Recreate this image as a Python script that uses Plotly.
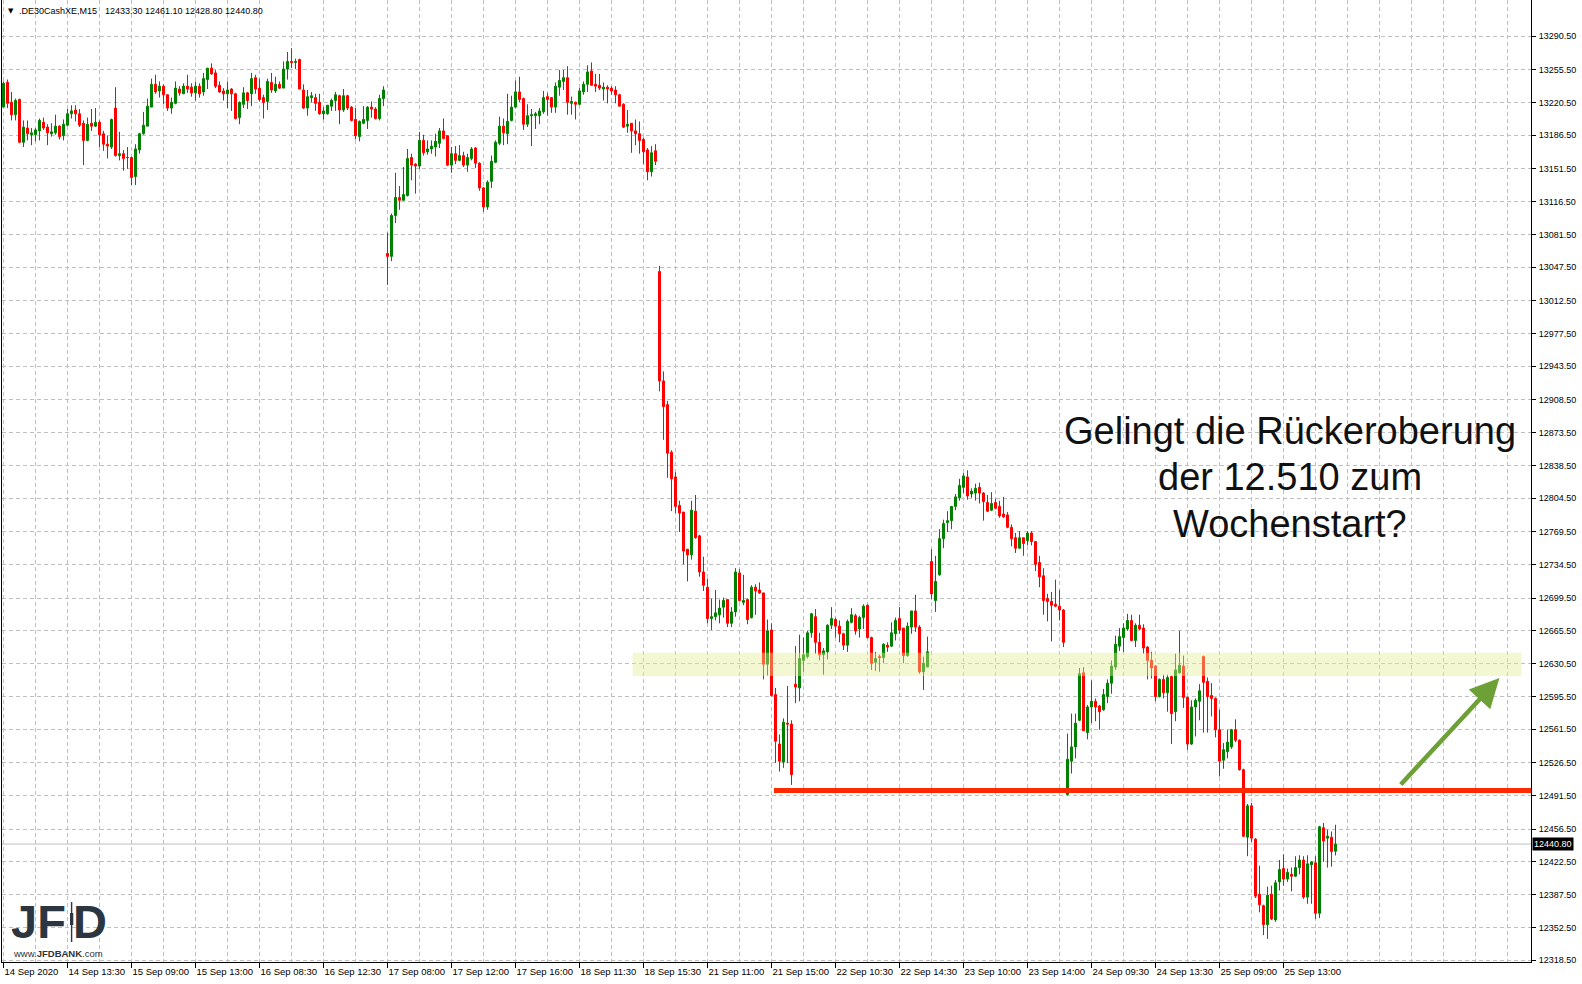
import plotly.graph_objects as go

# ---------------- data (DE30 M15 candles) ----------------
opens = [
13216,13242,13221,13208,13224,13179,13194,13187,13187,13191,
13200,13195,13188,13189,13196,13186,13197,13209,13213,13209,
13199,13181,13199,13196,13200,13188,13177,13174,13215,13165,
13167,13163,13163,13143,13171,13188,13196,13216,13240,13233,
13238,13229,13215,13220,13235,13230,13238,13237,13231,13238,
13232,13245,13257,13252,13239,13233,13230,13235,13230,13205,
13219,13231,13230,13247,13236,13226,13222,13242,13233,13240,
13236,13256,13264,13263,13266,13234,13215,13226,13226,13221,
13209,13209,13217,13223,13228,13213,13228,13216,13203,13185,
13199,13202,13216,13214,13204,13225,13062,13059,13102,13121,
13118,13123,13163,13156,13154,13181,13169,13172,13174,13178,
13191,13186,13155,13167,13160,13165,13155,13162,13173,13157,
13131,13111,13138,13158,13178,13196,13188,13202,13216,13232,
13225,13198,13207,13207,13207,13211,13227,13226,13216,13237,
13243,13247,13220,13221,13219,13232,13240,13254,13240,13239,
13235,13237,13236,13234,13229,13219,13196,13199,13191,13188,
13182,13171,13148,13170,13043,12928,12903,12853,12827,12797,
12790,12751,12745,12791,12765,12727,12711,12678,12680,12682,
12690,12698,12673,12685,12726,12695,12698,12679,12711,12708,
12705,12630,12666,12598,12546,12527,12568,12567,12609,12605,
12634,12638,12663,12680,12653,12640,12643,12671,12677,12670,
12662,12650,12674,12681,12667,12679,12692,12658,12632,12638,
12637,12650,12649,12662,12678,12668,12639,12669,12686,12669,
12622,12627,12738,12697,12724,12762,12779,12781,12796,12805,
12816,12827,12809,12810,12816,12810,12800,12792,12800,12796,
12788,12787,12774,12763,12752,12763,12760,12768,12759,12737,
12723,12699,12696,12693,12691,12687,12493,12528,12543,12571,
12621,12558,12585,12591,12586,12582,12596,12610,12627,12649,
12658,12667,12676,12655,12671,12668,12648,12634,12628,12596,
12614,12600,12617,12580,12621,12628,12595,12546,12585,12591,
12638,12612,12597,12594,12561,12529,12538,12543,12561,12550,
12519,12448,12481,12446,12388,12376,12356,12388,12361,12401,
12415,12404,12409,12407,12416,12424,12385,12419,12421,12368,
12458,12447,12448,12433.3]

highs = [
13243,13245,13232,13225,13225,13202,13202,13194,13194,13204,
13205,13198,13199,13208,13197,13203,13214,13218,13218,13214,
13202,13205,13214,13215,13202,13191,13186,13204,13237,13190,
13171,13174,13164,13177,13189,13211,13225,13246,13250,13243,
13240,13229,13226,13243,13238,13241,13250,13241,13243,13241,
13252,13257,13262,13255,13243,13236,13243,13236,13231,13222,
13237,13232,13252,13250,13246,13229,13246,13252,13248,13243,
13264,13274,13278,13267,13267,13240,13234,13232,13230,13230,
13216,13218,13225,13232,13229,13235,13229,13217,13215,13202,
13217,13217,13222,13216,13229,13238,13084,13104,13147,13133,
13153,13172,13167,13157,13190,13187,13181,13181,13188,13194,
13204,13186,13174,13175,13176,13169,13167,13174,13174,13158,
13132,13139,13165,13181,13206,13204,13230,13228,13244,13248,
13226,13219,13214,13211,13215,13233,13231,13226,13242,13255,
13255,13259,13227,13222,13236,13243,13260,13263,13251,13251,
13242,13239,13238,13238,13230,13220,13213,13199,13203,13201,
13184,13173,13175,13177,13049,12938,12907,12855,12832,12802,
12790,12751,12802,12808,12766,12743,12720,12699,12708,12698,
12700,12698,12690,12731,12730,12724,12699,12713,12714,12716,
12705,12677,12673,12605,12556,12573,12607,12571,12649,12661,
12658,12665,12684,12688,12663,12647,12672,12690,12679,12676,
12663,12677,12689,12683,12681,12693,12693,12659,12643,12640,
12652,12653,12674,12679,12690,12668,12674,12686,12703,12671,
12638,12659,12751,12744,12772,12782,12791,12796,12809,12825,
12831,12834,12815,12820,12821,12811,12808,12811,12804,12802,
12806,12790,12777,12768,12770,12763,12770,12770,12759,12744,
12731,12704,12706,12719,12708,12688,12557,12578,12578,12626,
12627,12587,12613,12594,12587,12604,12614,12634,12660,12668,
12673,12683,12682,12673,12682,12672,12649,12643,12629,12615,
12619,12619,12618,12641,12665,12639,12596,12592,12594,12609,
12639,12616,12610,12595,12582,12547,12561,12562,12572,12551,
12520,12483,12484,12447,12418,12377,12396,12397,12403,12424,
12430,12415,12416,12428,12429,12428,12429,12423,12428,12460,
12463,12456,12454,12461.1]

lows = [
13216,13215,13202,13202,13178,13174,13181,13176,13180,13181,
13192,13176,13185,13187,13182,13181,13196,13204,13201,13195,
13155,13180,13191,13195,13174,13170,13162,13172,13164,13160,
13149,13151,13134,13134,13167,13187,13196,13216,13230,13226,
13219,13212,13209,13219,13228,13230,13231,13227,13223,13226,
13228,13235,13250,13236,13231,13223,13215,13212,13203,13198,
13215,13214,13217,13230,13222,13204,13213,13231,13231,13235,
13236,13245,13257,13256,13235,13214,13207,13221,13212,13208,
13203,13208,13212,13212,13198,13211,13213,13201,13182,13180,
13198,13193,13205,13203,13202,13217,13029,13054,13094,13108,
13118,13122,13139,13125,13151,13165,13166,13167,13164,13173,
13182,13154,13147,13156,13159,13153,13148,13160,13152,13128,
13106,13108,13131,13157,13176,13176,13177,13201,13215,13221,
13192,13195,13175,13193,13198,13209,13207,13210,13210,13228,
13234,13208,13208,13203,13218,13229,13232,13239,13232,13234,
13223,13220,13229,13220,13217,13194,13189,13168,13176,13167,
13156,13139,13143,13155,12917,12866,12826,12791,12789,12769,
12735,12717,12740,12762,12722,12707,12673,12666,12676,12673,
12679,12669,12669,12680,12696,12692,12672,12678,12682,12704,
12614,12618,12596,12526,12517,12521,12526,12503,12589,12591,
12622,12636,12658,12641,12634,12619,12635,12667,12658,12653,
12645,12643,12673,12661,12658,12667,12657,12624,12623,12622,
12631,12643,12648,12655,12662,12631,12638,12662,12664,12620,
12603,12627,12698,12685,12723,12752,12769,12772,12792,12802,
12810,12803,12805,12802,12799,12781,12790,12791,12793,12784,
12784,12773,12754,12747,12752,12744,12755,12755,12728,12711,
12682,12675,12654,12690,12676,12648,12492,12515,12531,12570,
12560,12551,12568,12570,12561,12581,12589,12599,12624,12644,
12643,12665,12654,12648,12666,12641,12614,12615,12591,12595,
12594,12580,12546,12570,12620,12584,12540,12545,12554,12571,
12558,12558,12575,12553,12512,12520,12531,12541,12548,12518,
12448,12428,12443,12384,12369,12345,12341,12361,12359,12392,
12397,12401,12391,12406,12409,12383,12378,12378,12362,12363,
12422,12416,12417,12428.8]

closes = [
13241,13220,13208,13223,13179,13195,13188,13189,13192,13202,
13194,13189,13190,13196,13185,13198,13209,13212,13209,13197,
13181,13198,13196,13200,13187,13177,13175,13203,13165,13167,
13162,13163,13142,13172,13188,13197,13217,13240,13232,13238,
13229,13215,13221,13236,13231,13238,13235,13231,13238,13230,
13246,13257,13251,13238,13232,13230,13234,13230,13204,13221,
13231,13223,13246,13235,13224,13221,13243,13234,13240,13236,
13256,13264,13263,13264,13235,13215,13227,13228,13220,13209,
13212,13218,13223,13229,13213,13228,13215,13202,13186,13201,
13203,13216,13214,13204,13225,13234,13059,13102,13121,13118,
13124,13162,13155,13154,13181,13168,13172,13175,13180,13191,
13183,13155,13167,13160,13165,13155,13163,13172,13157,13131,
13111,13137,13159,13179,13196,13189,13201,13216,13232,13224,
13198,13207,13208,13209,13212,13226,13224,13216,13238,13244,
13247,13221,13222,13219,13233,13240,13253,13239,13238,13236,
13237,13235,13233,13229,13217,13195,13198,13191,13188,13181,
13169,13148,13168,13159,12928,12901,12852,12825,12796,12789,
12749,12745,12792,12763,12727,12713,12678,12680,12684,12689,
12697,12673,12685,12727,12697,12697,12677,12711,12707,12705,
12630,12665,12597,12549,12528,12569,12567,12514,12606,12636,
12640,12663,12683,12653,12640,12644,12671,12678,12670,12662,
12650,12675,12682,12665,12679,12691,12658,12631,12636,12637,
12651,12648,12663,12676,12666,12639,12670,12686,12669,12622,
12631,12643,12704,12717,12762,12778,12781,12796,12806,12818,
12828,12807,12812,12815,12810,12801,12791,12799,12794,12786,
12785,12774,12762,12752,12763,12757,12768,12759,12735,12722,
12697,12696,12692,12691,12687,12653,12530,12543,12568,12620,
12560,12585,12591,12585,12580,12598,12610,12628,12651,12659,
12668,12676,12655,12671,12667,12647,12634,12626,12596,12614,
12600,12616,12578,12624,12629,12595,12546,12585,12592,12602,
12611,12596,12594,12561,12528,12540,12548,12561,12550,12519,
12449,12481,12447,12386,12377,12356,12387,12362,12400,12414,
12404,12411,12407,12416,12424,12385,12420,12422,12368,12459,
12444,12449,12433,12440.8]

x_labels = ["14 Sep 2020", "14 Sep 13:30", "15 Sep 09:00", "15 Sep 13:00",
            "16 Sep 08:30", "16 Sep 12:30", "17 Sep 08:00", "17 Sep 12:00",
            "17 Sep 16:00", "18 Sep 11:30", "18 Sep 15:30", "21 Sep 11:00",
            "21 Sep 15:00", "22 Sep 10:30", "22 Sep 14:30", "23 Sep 10:00",
            "23 Sep 14:00", "24 Sep 09:30", "24 Sep 13:30", "25 Sep 09:00",
            "25 Sep 13:00"]
x_label_every = 16          # candles between labels

y_labels = ["13290.50", "13255.50", "13220.50", "13186.50", "13151.50", "13116.50",
            "13081.50", "13047.50", "13012.50", "12977.50", "12943.50", "12908.50",
            "12873.50", "12838.50", "12804.50", "12769.50", "12734.50", "12699.50",
            "12665.50", "12630.50", "12595.50", "12561.50", "12526.50", "12491.50",
            "12456.50", "12422.50", "12387.50", "12352.50", "12318.50"]

last_price = 12440.80
support_level = 12497.0
zone_low, zone_high = 12617.6, 12642.0
header_symbol = ".DE30CashXE,M15"
header_ohlc = "12433.30 12461.10 12428.80 12440.80"
note_lines = ["Gelingt die Rückeroberung", "der 12.510 zum", "Wochenstart?"]

n = len(opens)
assert len(highs) == n and len(lows) == n and len(closes) == n, (len(opens), len(highs), len(lows), len(closes))
idx = list(range(n))

# ---------------- layout geometry ----------------
W, H = 1582, 984
PL, PR, PT, PB = 2, 1531, 0, 962
C0, STEP = 3.5, 4.0
FONT = "Liberation Sans, Arial, sans-serif"
GRID = "#c0c0c0"
DASH = "4px,3px"

x_rng = [(PL - C0) / STEP, (PR - C0) / STEP]
PT_PER_PX = 34.714 / 33.0
y_top = 13290.5 + (36.3 - PT) * PT_PER_PX
y_bot = 13290.5 - (PB - 36.3) * PT_PER_PX


def px(xp):
    return (xp - PL) / (PR - PL)


def py(yp):
    return (PB - yp) / (PB - PT)


def xi(xp):
    return (xp - C0) / STEP


fig = go.Figure(go.Candlestick(
    x=idx, open=opens, high=highs, low=lows, close=closes,
    increasing=dict(line=dict(color="#008000", width=1), fillcolor="#008000"),
    decreasing=dict(line=dict(color="#ff0000", width=1), fillcolor="#ff0000"),
    whiskerwidth=0, hoverinfo="skip", showlegend=False,
))

tickvals_x = [k * x_label_every for k in range(len(x_labels))]

fig.update_layout(
    width=W, height=H,
    margin=dict(l=PL, r=W - PR, t=PT, b=H - PB, pad=0),
    paper_bgcolor="white", plot_bgcolor="white",
    boxgap=0.5, boxgroupgap=0,
    font=dict(family=FONT, size=9, color="black"),
    showlegend=False,
    xaxis=dict(
        range=x_rng, rangeslider=dict(visible=False),
        tickmode="array", tickvals=tickvals_x, ticktext=x_labels, tickangle=0,
        ticks="outside", ticklen=5, tickcolor="black", tickwidth=1,
        ticklabelposition="outside right", ticklabelstandoff=1,
        tickfont=dict(family=FONT, size=9.5, color="black"),
        showline=True, linecolor="black", linewidth=1, mirror=False,
        showgrid=True, gridcolor=GRID, griddash=DASH, gridwidth=1,
        minor=dict(tick0=0, dtick=x_label_every // 2, showgrid=True,
                   gridcolor=GRID, griddash=DASH, gridwidth=1, ticks=""),
        zeroline=False, fixedrange=True, automargin=False,
    ),
    yaxis=dict(
        range=[y_bot, y_top], side="right",
        tickmode="array", tickvals=[float(v) for v in y_labels], ticktext=y_labels,
        ticks="outside", ticklen=4, tickcolor="black", tickwidth=1,
        ticklabelstandoff=1,
        tickfont=dict(family=FONT, size=9, color="black"),
        showline=True, linecolor="black", linewidth=1, mirror=True,
        showgrid=True, gridcolor=GRID, griddash=DASH, gridwidth=1,
        zeroline=False, fixedrange=True, automargin=False,
    ),
)

LOGO = "#2b3641"
shapes = [
    # current price line
    dict(type="line", xref="paper", yref="y", x0=0, x1=1, y0=last_price, y1=last_price,
         line=dict(color="#c0c0c0", width=1), layer="between"),
    # resistance zone
    dict(type="rect", xref="x", yref="y", x0=xi(632.6), x1=xi(1521.5),
         y0=zone_low, y1=zone_high, fillcolor="rgba(228,238,148,0.42)",
         line=dict(width=0), layer="above"),
    # support line
    dict(type="line", xref="x", yref="y", x0=xi(774), x1=x_rng[1],
         y0=support_level, y1=support_level,
         line=dict(color="#ff2a00", width=5), layer="above"),
    # logo bar
    dict(type="line", xref="paper", yref="paper", x0=px(71.6), x1=px(71.6),
         y0=py(902), y1=py(942), line=dict(color=LOGO, width=1.4), layer="above"),
    dict(type="rect", xref="paper", yref="paper", x0=px(70), x1=px(73.3),
         y0=py(925), y1=py(913), fillcolor=LOGO, line=dict(width=0), layer="above"),
]
fig.update_layout(shapes=shapes)

ann = []
# header
ann.append(dict(xref="paper", yref="paper", x=px(5.5), y=py(11), xanchor="left", yanchor="middle",
                text="▼", showarrow=False, font=dict(family="DejaVu Sans", size=7, color="black")))
ann.append(dict(xref="paper", yref="paper", x=px(16.5), y=py(11), xanchor="left", yanchor="middle",
                text=header_symbol, showarrow=False, font=dict(family=FONT, size=9, color="black")))
ann.append(dict(xref="paper", yref="paper", x=px(102.5), y=py(11), xanchor="left", yanchor="middle",
                text=header_ohlc, showarrow=False, font=dict(family=FONT, size=9, color="black")))
# price tag
ann.append(dict(xref="paper", yref="y", x=1, y=last_price, xanchor="left", yanchor="middle",
                xshift=1, text=f"{last_price:.2f}", showarrow=False, bgcolor="black",
                borderpad=1, font=dict(family=FONT, size=9, color="white")))
# note text
for line, yc in zip(note_lines, [430.8, 477.2, 523.6]):
    ann.append(dict(xref="paper", yref="paper", x=px(1290), y=py(yc), xanchor="center",
                    yanchor="middle", text=line, showarrow=False,
                    font=dict(family=FONT, size=38, color="#111111")))
# arrow
ann.append(dict(xref="x", yref="y", x=xi(1499.4), y=12615.5, ax=-100, ay=108,
                text="", showarrow=True, arrowhead=2, arrowsize=1.3, arrowwidth=4.5,
                arrowcolor="#6da036", standoff=0))
# logo
LOGO_FONT = "Liberation Sans, Arial, sans-serif"
ann.append(dict(xref="paper", yref="paper", x=px(67), y=py(921), xanchor="right", yanchor="middle",
                text="<b>JF</b>", showarrow=False, borderpad=0,
                font=dict(family=LOGO_FONT, size=47, color=LOGO)))
ann.append(dict(xref="paper", yref="paper", x=px(72), y=py(921), xanchor="left", yanchor="middle",
                text="<b>D</b>", showarrow=False, borderpad=0,
                font=dict(family=LOGO_FONT, size=47, color=LOGO)))
ann.append(dict(xref="paper", yref="paper", x=px(58), y=py(953), xanchor="center", yanchor="middle",
                text="www.<b>JFDBANK</b>.com", showarrow=False, borderpad=0,
                font=dict(family=FONT, size=9.5, color="#333333")))
fig.update_layout(annotations=ann)

fig.write_html("out.html", config={"displayModeBar": False},
               post_script="document.body.style.margin='0px';document.body.style.padding='0px';")
